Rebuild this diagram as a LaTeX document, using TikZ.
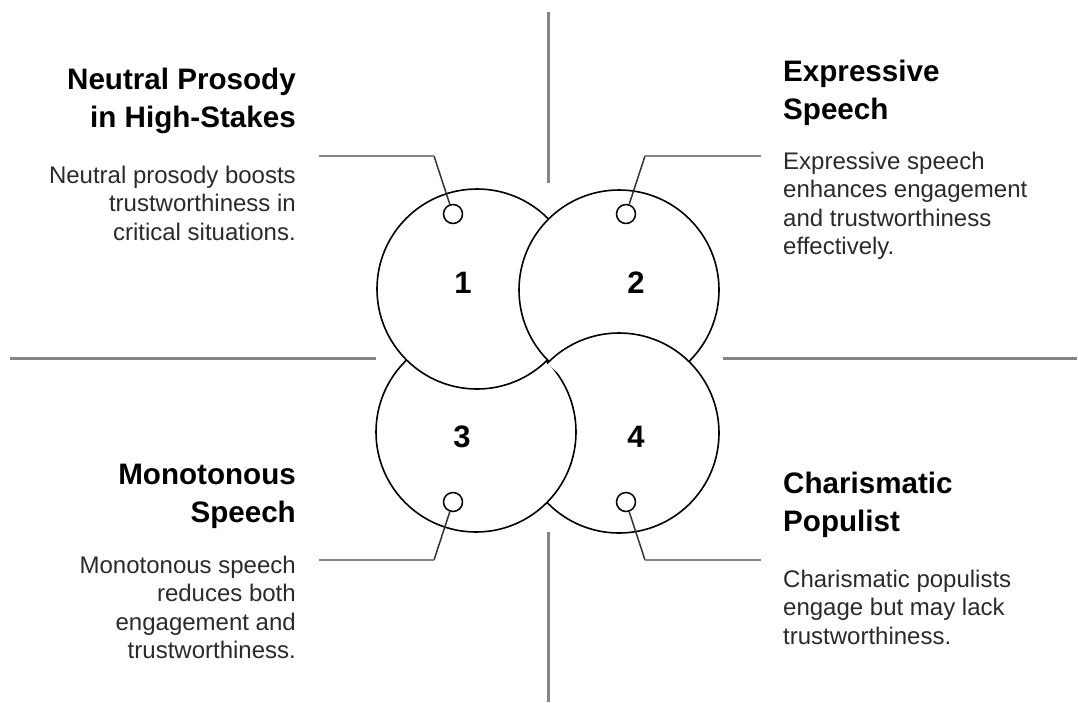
\documentclass[tikz,border=0pt]{standalone}
\usepackage{fontspec}
\setmainfont{Liberation Sans}
\definecolor{linegray}{HTML}{858585}
\definecolor{leaddark}{HTML}{333333}
\definecolor{bodytext}{HTML}{2A2A2A}
\begin{document}
\begin{tikzpicture}[x=1pt,y=-1pt,
  bigc/.style={circle,draw=black,fill=white,line width=1.6pt,minimum size=200pt,inner sep=0pt},
  smallc/.style={circle,draw=black,fill=white,line width=1.5pt,minimum size=19pt,inner sep=0pt},
  axisline/.style={draw=linegray,line width=3pt},
  leadgray/.style={draw=linegray,line width=2.6pt},
  leaddiag/.style={draw=leaddark,line width=1.5pt},
  num/.style={font=\fontsize{31}{31}\bfseries\selectfont,inner sep=0pt,anchor=base},
  headl/.style={font=\fontsize{29.6}{38.5}\bfseries\selectfont,text=black,inner sep=0pt,anchor=base east},
  headr/.style={font=\fontsize{29.6}{38.5}\bfseries\selectfont,text=black,inner sep=0pt,anchor=base west},
  bodyl/.style={font=\fontsize{24}{28.5}\selectfont,text=bodytext,inner sep=0pt,anchor=base east},
  bodyr/.style={font=\fontsize{24}{28.5}\selectfont,text=bodytext,inner sep=0pt,anchor=base west}]
\useasboundingbox (0,0) rectangle (1078,702);
% axis lines
\coordinate (at) at (548,12);
\coordinate (ab) at (548,183);
\coordinate (bt) at (548,532);
\coordinate (bb) at (548,702);
\coordinate (ll) at (10,358);
\coordinate (lr) at (376,358);
\coordinate (rl) at (723,358);
\coordinate (rr) at (1077,358);
\draw[axisline] (at) -- (ab);
\draw[axisline] (bt) -- (bb);
\draw[axisline] (ll) -- (lr);
\draw[axisline] (rl) -- (rr);
% big circles (painter order 4,3,1,2, then 4 over 2)
\node[bigc] (c4) at (619,433) {};
\node[bigc] (c3) at (476,432) {};
\node[bigc] (c1) at (477,289) {};
\node[bigc] (c2) at (619,290) {};
\begin{scope}
  \clip (c2.center) circle[radius=102.8pt];
  \fill[white,draw=black,line width=1.6pt] (c4.center) circle[radius=100pt];
\end{scope}
% numbers
\node[num] (n1) at (463,293) {1};
\node[num] (n2) at (636,293) {2};
\node[num] (n3) at (462,447) {3};
\node[num] (n4) at (636,447) {4};
% small circles and leaders
\node[smallc] (s1) at (453,214) {};
\node[smallc] (s2) at (626,214) {};
\node[smallc] (s3) at (453,502) {};
\node[smallc] (s4) at (626,502) {};
\coordinate (k1) at (434,156);
\coordinate (k2) at (645,156);
\coordinate (k3) at (434,560);
\coordinate (k4) at (645,560);
\coordinate (e1) at (319,156);
\coordinate (e2) at (761,156);
\coordinate (e3) at (319,560);
\coordinate (e4) at (761,560);
\draw[leaddiag] (s1) -- (k1);
\draw[leaddiag] (s2) -- (k2);
\draw[leaddiag] (s3) -- (k3);
\draw[leaddiag] (s4) -- (k4);
\draw[leadgray] (e1) -- (k1);
\draw[leadgray] (k2) -- (e2);
\draw[leadgray] (e3) -- (k3);
\draw[leadgray] (k4) -- (e4);
% texts
\node[headl] (h1) at (296,89) {\begin{tabular}[t]{@{}r@{}}Neutral Prosody\\in High-Stakes\end{tabular}};
\node[bodyl] (b1) at (296,183) {\begin{tabular}[t]{@{}r@{}}Neutral prosody boosts\\trustworthiness in\\critical situations.\end{tabular}};
\node[headr] (h2) at (783,81) {\begin{tabular}[t]{@{}l@{}}Expressive\\Speech\end{tabular}};
\node[bodyr] (b2) at (783,169) {\begin{tabular}[t]{@{}l@{}}Expressive speech\\enhances engagement\\and trustworthiness\\effectively.\end{tabular}};
\node[headl] (h3) at (296,484) {\begin{tabular}[t]{@{}r@{}}Monotonous\\Speech\end{tabular}};
\node[bodyl] (b3) at (296,573) {\begin{tabular}[t]{@{}r@{}}Monotonous speech\\reduces both\\engagement and\\trustworthiness.\end{tabular}};
\node[headr] (h4) at (783,493) {\begin{tabular}[t]{@{}l@{}}Charismatic\\Populist\end{tabular}};
\node[bodyr] (b4) at (783,587) {\begin{tabular}[t]{@{}l@{}}Charismatic populists\\engage but may lack\\trustworthiness.\end{tabular}};
\end{tikzpicture}
\end{document}
